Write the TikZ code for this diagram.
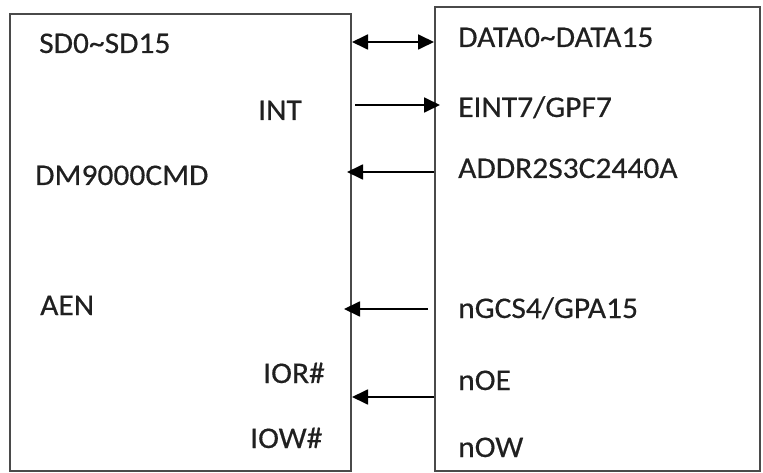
\documentclass[tikz,border=0pt]{standalone}
\usepackage{fontspec}
\setmainfont{Carlito}[FakeStretch=1.05,FakeBold=0.4]
\usetikzlibrary{arrows.meta}
\definecolor{boxline}{HTML}{4A4A4A}
\definecolor{txt}{HTML}{202020}
\begin{document}
\begin{tikzpicture}[x=1pt,y=-1pt,
  box/.style={draw=boxline,line width=2pt,rectangle,inner sep=0pt},
  lbl/.style={anchor=base west,inner sep=0pt,text=txt,font=\fontsize{30}{36}\selectfont},
  arr/.style={line width=1.8pt,-{Triangle[length=16pt,width=15pt]}},
  darr/.style={line width=1.8pt,{Triangle[length=16pt,width=15pt]}-{Triangle[length=16pt,width=15pt]}}]
\useasboundingbox (0,0) rectangle (763,473);
\node[box,minimum width=341pt,minimum height=457pt] (L) at (180.5,242.5) {};
\node[box,minimum width=325pt,minimum height=464pt] (R) at (597.5,239) {};
% left labels
\node[lbl] (sd) at (39,53) {SD0\char`\~SD15};
\node[lbl] (int) at (258,120) {INT};
\node[lbl] (dm) at (35,185) {DM9000CMD};
\node[lbl] (aen) at (40,315) {AEN};
\node[lbl] (ior) at (263,383) {IOR\#};
\node[lbl] (iow) at (250,448) {IOW\#};
% right labels
\node[lbl] (data) at (458,47) {DATA0\char`\~DATA15};
\node[lbl] (eint) at (458,117) {EINT7/GPF7};
\node[lbl] (addr) at (458,178) {ADDR2S3C2440A};
\node[lbl] (ngcs) at (458,318) {nGCS4/GPA15};
\node[lbl] (noe) at (458,390) {nOE};
\node[lbl] (now) at (458,457) {nOW};
% connector levels
\coordinate (y1) at (0,42);
\coordinate (y2) at (0,105);
\coordinate (y3) at (0,172);
\coordinate (y4) at (0,309);
\coordinate (y5) at (0,397);
\draw[darr] (L.east |- y1) -- (R.west |- y1);
\draw[arr,shorten <=3pt,shorten >=-6pt] (L.east |- y2) -- (R.west |- y2);
\draw[arr,shorten >=-5pt] (R.west |- y3) -- (L.east |- y3);
\draw[arr,shorten <=6pt,shorten >=-8pt] (R.west |- y4) -- (L.east |- y4);
\draw[arr] (R.west |- y5) -- (L.east |- y5);
\end{tikzpicture}
\end{document}
